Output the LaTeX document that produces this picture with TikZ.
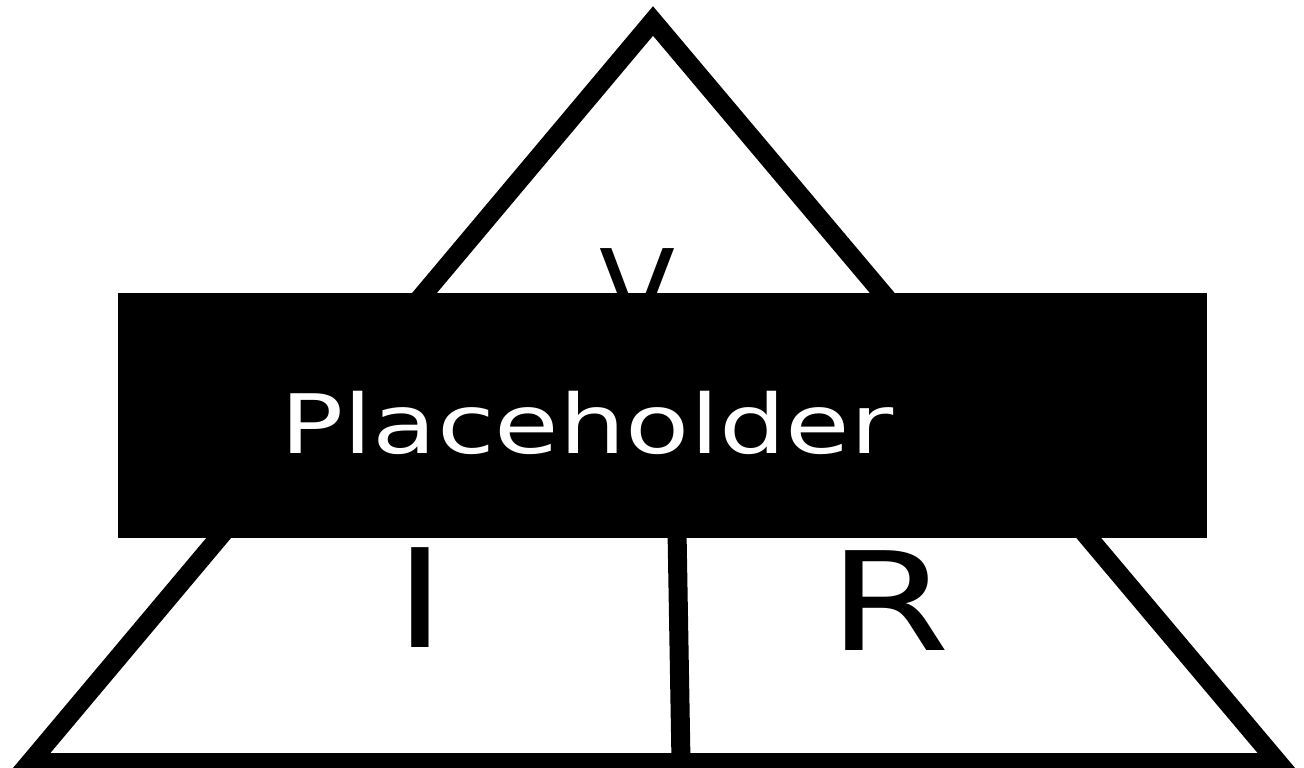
\documentclass[tikz,border=0pt]{standalone}
\usepackage{fontspec}
\setmainfont{DejaVu Sans}
\usetikzlibrary{positioning}
\newcommand{\wide}[1]{\scalebox{1.28}[1]{#1}}
\tikzset{
  edge/.style={line width=19pt, line join=miter},
  split/.style={line width=19pt},
  letter/.style={font=\fontsize{137}{150}\selectfont, inner sep=0pt, anchor=base},
  banner/.style={fill=black, inner sep=0pt, outer sep=0pt,
                 minimum width=1089pt, minimum height=245pt},
  caption/.style={font=\fontsize{82}{96}\selectfont, text=white, inner sep=0pt},
}
\begin{document}
\begin{tikzpicture}[x=1pt, y=-1pt]
  \useasboundingbox (0, 0) rectangle (1304, 768);
  \clip (0, 0) rectangle (1304, 768);
  % triangle corners
  \coordinate (top) at (653, 21);
  \coordinate (left) at (30, 762.5);
  \coordinate (right) at (1278, 762.5);
  \coordinate (splitT) at (677, 530);
  \coordinate (splitB) at (681, 762);
  \draw[edge] (top) -- (left) -- (right) -- cycle;
  \draw[split] (splitT) -- (splitB);
  % V, I, R
  \node[letter, font=\fontsize{111}{120}\selectfont] (v) at (637.5, 329) {V};
  \node[letter] (i) at (420, 647) {\wide{I}};
  \node[letter] (r) at (889, 650) {\wide{R}};
  % cover
  \node[banner, anchor=north west] (cover) at (118, 293) {};
  \node[caption, anchor=base west] (ph) at (280, 453) {\wide{Placeholder}};
\end{tikzpicture}
\end{document}
